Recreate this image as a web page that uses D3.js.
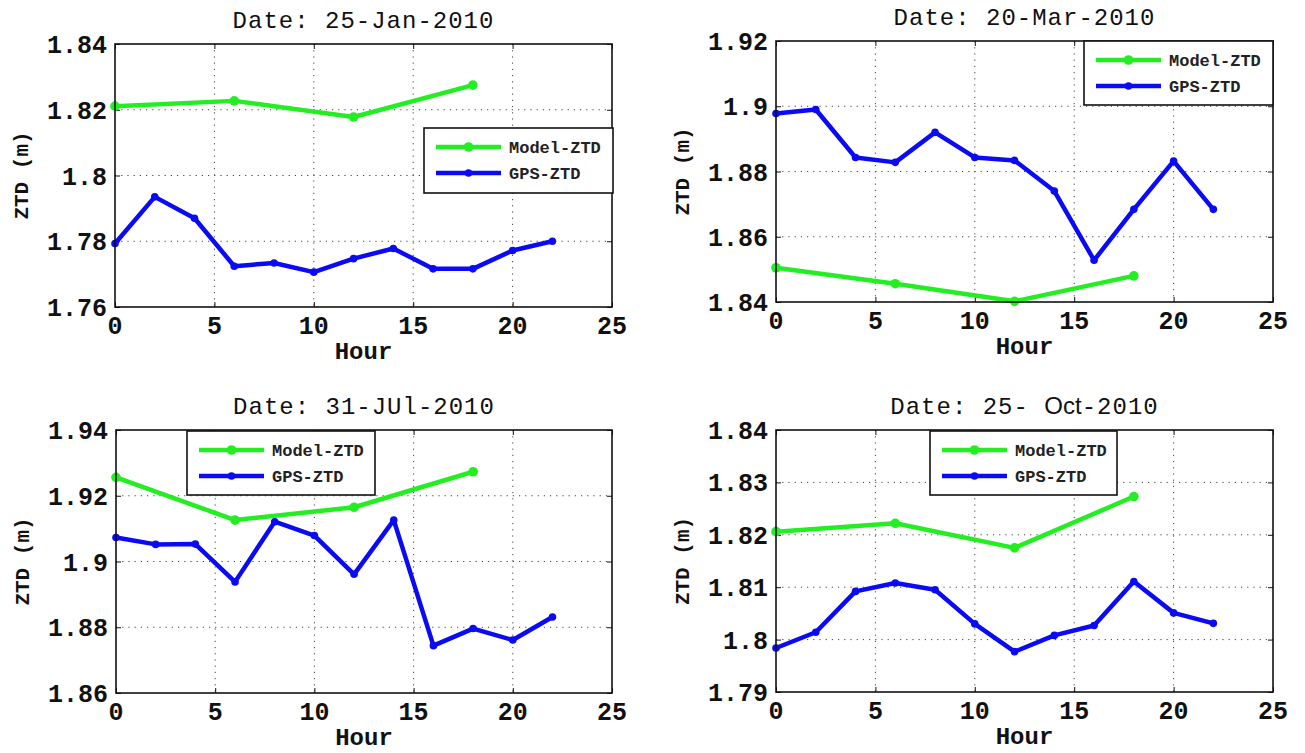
<!DOCTYPE html>
<html>
<head>
<meta charset="utf-8">
<script src="https://cdn.jsdelivr.net/npm/d3@7"></script>
<style>
  html, body { margin: 0; padding: 0; background: #fff; }
  svg { display: block; }
  .tick-label { font-family: "Liberation Mono", "DejaVu Sans Mono", monospace; font-weight: bold; font-size: 25px; fill: #111; }
  .axis-title { font-family: "Liberation Mono", "DejaVu Sans Mono", monospace; font-weight: bold; font-size: 24px; fill: #111; }
  .ylab { font-family: "Liberation Mono", "DejaVu Sans Mono", monospace; font-weight: bold; font-size: 21px; fill: #111; }
  .title { font-family: "Liberation Mono", "DejaVu Sans Mono", monospace; font-size: 24px; letter-spacing: 1px; fill: #111; }
  .legend-text { font-family: "Liberation Mono", "DejaVu Sans Mono", monospace; font-weight: bold; font-size: 17px; fill: #222; }
</style>
</head>
<body>
<script>
// Hours of the day at which each series was sampled
const modelHours = [0, 6, 12, 18];
const gpsHours = [0, 2, 4, 6, 8, 10, 12, 14, 16, 18, 20, 22];

// Panel titles (date of each day)
const titleJan = "Date: 25-Jan-2010";
const titleMar = "Date: 20-Mar-2010";
const titleJul = "Date: 31-JUl-2010";
const titleOct = ["Date: 25-", "Oct", "-2010"];

// Model-derived zenith total delay (m)
const modelJan = [1.8211, 1.8227, 1.8178, 1.8275];
const modelMar = [1.8505, 1.8456, 1.8402, 1.8480];
const modelJul = [1.9256, 1.9126, 1.9165, 1.9273];
const modelOct = [1.8206, 1.8222, 1.8175, 1.8273];

// GPS-derived zenith total delay (m)
const gpsJan = [1.7793, 1.7935, 1.7870, 1.7724, 1.7734, 1.7706, 1.7747, 1.7778, 1.7716, 1.7716, 1.7772, 1.7800];
const gpsMar = [1.8978, 1.8990, 1.8843, 1.8828, 1.8920, 1.8843, 1.8834, 1.8740, 1.8528, 1.8684, 1.8832, 1.8684];
const gpsJul = [1.9073, 1.9052, 1.9053, 1.8938, 1.9121, 1.9079, 1.8961, 1.9126, 1.8744, 1.8796, 1.8761, 1.8831];
const gpsOct = [1.7984, 1.8014, 1.8092, 1.8108, 1.8095, 1.8030, 1.7977, 1.8008, 1.8027, 1.8111, 1.8051, 1.8031];

// Axis ticks
const xTicks = [0, 5, 10, 15, 20, 25];
const yTicksJan = [1.76, 1.78, 1.80, 1.82, 1.84];
const yTicksMar = [1.84, 1.86, 1.88, 1.90, 1.92];
const yTicksJul = [1.86, 1.88, 1.90, 1.92, 1.94];
const yTicksOct = [1.79, 1.80, 1.81, 1.82, 1.83, 1.84];

// Series names
const seriesNames = ["Model-ZTD", "GPS-ZTD"];

const W = 1305, H = 753;
const GREEN = "#22ee22", BLUE = "#0a0af5";

const panels = [
  { title: titleJan, model: modelJan, gps: gpsJan, yTicks: yTicksJan,
    box: { x: 115, y: 44, w: 497, h: 263 }, legend: { x: 424, y: 128, w: 189, h: 65 } },
  { title: titleMar, model: modelMar, gps: gpsMar, yTicks: yTicksMar,
    box: { x: 776, y: 41, w: 497, h: 261 }, legend: { x: 1084, y: 41, w: 189, h: 64 } },
  { title: titleJul, model: modelJul, gps: gpsJul, yTicks: yTicksJul,
    box: { x: 116, y: 430, w: 496, h: 263 }, legend: { x: 187, y: 431, w: 188, h: 64 } },
  { title: titleOct, model: modelOct, gps: gpsOct, yTicks: yTicksOct,
    box: { x: 776, y: 430, w: 497, h: 262 }, legend: { x: 930, y: 431, w: 187, h: 64 } }
];

const svg = d3.select("body").append("svg")
  .attr("width", W).attr("height", H)
  .attr("viewBox", `0 0 ${W} ${H}`);

const fmtY = d3.format(".3~f");

panels.forEach(p => {
  const b = p.box;
  const g = svg.append("g");
  const x = d3.scaleLinear().domain([0, 25]).range([b.x, b.x + b.w]);
  const y = d3.scaleLinear().domain(d3.extent(p.yTicks)).range([b.y + b.h, b.y]);

  // dotted grid
  g.append("g").selectAll("line.vg").data(xTicks.slice(1, -1)).join("line")
    .attr("x1", d => x(d)).attr("x2", d => x(d))
    .attr("y1", b.y).attr("y2", b.y + b.h)
    .attr("stroke", "#444").attr("stroke-width", 1).attr("stroke-dasharray", "1.2,5");
  g.append("g").selectAll("line.hg").data(p.yTicks.slice(1, -1)).join("line")
    .attr("y1", d => y(d)).attr("y2", d => y(d))
    .attr("x1", b.x).attr("x2", b.x + b.w)
    .attr("stroke", "#444").attr("stroke-width", 1).attr("stroke-dasharray", "1.2,5");

  // axes via d3 axis generators (ticks inward, labels drawn separately)
  const xAxisB = d3.axisBottom(x).tickValues(xTicks).tickSizeInner(-5).tickSizeOuter(0).tickFormat("");
  const xAxisT = d3.axisTop(x).tickValues(xTicks).tickSizeInner(-5).tickSizeOuter(0).tickFormat("");
  const yAxisL = d3.axisLeft(y).tickValues(p.yTicks).tickSizeInner(-5).tickSizeOuter(0).tickFormat("");
  const yAxisR = d3.axisRight(y).tickValues(p.yTicks).tickSizeInner(-5).tickSizeOuter(0).tickFormat("");
  [[xAxisB, `translate(0,${b.y + b.h})`], [xAxisT, `translate(0,${b.y})`],
   [yAxisL, `translate(${b.x},0)`], [yAxisR, `translate(${b.x + b.w},0)`]].forEach(([ax, tr]) => {
    const a = g.append("g").attr("transform", tr).call(ax);
    a.select(".domain").remove();
    a.selectAll("line").attr("stroke", "#111").attr("stroke-width", 1);
  });

  // x tick labels
  g.append("g").selectAll("text").data(xTicks).join("text")
    .attr("class", "tick-label")
    .attr("x", d => x(d)).attr("y", b.y + b.h + 27)
    .attr("text-anchor", "middle").text(d => d);

  // y tick labels
  g.append("g").selectAll("text").data(p.yTicks).join("text")
    .attr("class", "tick-label")
    .attr("x", b.x - 8).attr("y", d => y(d))
    .attr("dy", "0.36em")
    .attr("text-anchor", "end").text(d => fmtY(d));

  // series lines
  const line = d3.line().x(d => x(d[0])).y(d => y(d[1]));
  const series = [
    { pts: modelHours.map((h, i) => [h, p.model[i]]), color: GREEN, r: 4.8 },
    { pts: gpsHours.map((h, i) => [h, p.gps[i]]), color: BLUE, r: 3.8 }
  ];
  series.forEach(s => {
    g.append("path").datum(s.pts)
      .attr("d", line).attr("fill", "none")
      .attr("stroke", s.color).attr("stroke-width", 4.5)
      .attr("stroke-linejoin", "round").attr("stroke-linecap", "round");
    g.append("g").selectAll("circle").data(s.pts).join("circle")
      .attr("cx", d => x(d[0])).attr("cy", d => y(d[1]))
      .attr("r", s.r).attr("fill", s.color);
  });

  // axes box
  g.append("rect").attr("x", b.x).attr("y", b.y).attr("width", b.w).attr("height", b.h)
    .attr("fill", "none").attr("stroke", "#111").attr("stroke-width", 1.6);

  // title
  const t = g.append("text").attr("class", "title")
    .attr("x", b.x + b.w / 2).attr("y", b.y - 16).attr("text-anchor", "middle");
  if (Array.isArray(p.title)) {
    t.append("tspan").text(p.title[0] + " ");
    t.append("tspan").attr("font-family", "Liberation Sans, Arial, sans-serif").attr("letter-spacing", "0px").text(p.title[1]);
    t.append("tspan").text(p.title[2]);
  } else {
    t.text(p.title);
  }

  // axis titles
  g.append("text").attr("class", "axis-title")
    .attr("x", b.x + b.w / 2).attr("y", b.y + b.h + 52)
    .attr("text-anchor", "middle").text("Hour");
  g.append("text").attr("class", "ylab")
    .attr("transform", `translate(${b.x - 87},${b.y + b.h / 2}) rotate(-90)`)
    .attr("text-anchor", "middle").text("ZTD (m)");

  // legend
  const L = p.legend;
  const lg = g.append("g");
  lg.append("rect").attr("x", L.x).attr("y", L.y).attr("width", L.w).attr("height", L.h)
    .attr("fill", "#fff").attr("stroke", "#111").attr("stroke-width", 1.6);
  [[seriesNames[0], GREEN, 4.8, 19], [seriesNames[1], BLUE, 3.8, 45]].forEach(([name, color, r, dy]) => {
    const yy = L.y + dy;
    lg.append("line").attr("x1", L.x + 12).attr("x2", L.x + 77)
      .attr("y1", yy).attr("y2", yy).attr("stroke", color).attr("stroke-width", 4.5);
    lg.append("circle").attr("cx", L.x + 44.5).attr("cy", yy).attr("r", r).attr("fill", color);
    lg.append("text").attr("class", "legend-text")
      .attr("x", L.x + 85).attr("y", yy).attr("dy", "0.35em").text(name);
  });
});
</script>
</body>
</html>
